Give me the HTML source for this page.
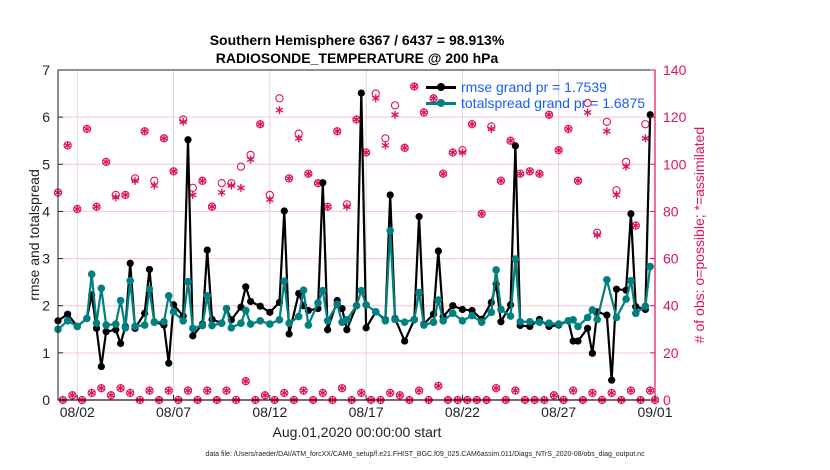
<!DOCTYPE html>
<html><head><meta charset="utf-8"><style>
body{margin:0;background:#fff;}
svg{display:block;font-family:"Liberation Sans",sans-serif;}
</style></head><body>
<svg id="chart" width="830" height="470" xmlns="http://www.w3.org/2000/svg"></svg>
<script>
// ---- data (time index = 6-hour steps from Aug 01 2020 00:00) ----
const rmseTimes = [0,2,4,6,7,8,9,10,12,13,14,15,16,18,19,20,22,23,24,26,27,28,30,31,32,34,35,36,38,39,40,42,44,46,47,48,50,51,52,54,55,56,58,59,60,62,63,64,66,68,69,70,72,74,75,76,78,79,80,82,84,86,88,90,91,92,94,95,96,98,100,102,104,106,107,108,110,111,112,114,115,116,118,119,120,122,123];
const rmseValues = [1.68,1.82,1.56,1.73,2.23,1.52,0.71,1.45,1.49,1.20,1.56,2.90,1.52,1.84,2.77,1.66,1.59,0.78,2.02,1.78,5.52,1.36,1.61,3.18,1.71,1.63,1.94,1.70,1.97,2.40,2.09,1.99,1.86,2.07,4.01,1.40,2.26,2.0,1.90,1.94,4.61,1.49,2.11,1.94,1.49,2.0,6.51,1.53,1.87,1.70,4.35,1.73,1.25,1.70,3.89,1.61,1.82,3.16,1.77,2.0,1.92,1.90,1.71,2.07,2.46,1.66,2.02,5.39,1.58,1.56,1.71,1.56,1.59,1.68,1.25,1.25,1.52,0.99,1.87,1.80,0.42,2.35,2.33,3.95,1.98,1.92,6.05];
const spreadValues = [1.50,1.68,1.56,1.73,2.67,1.63,2.37,1.59,1.61,2.11,1.53,2.53,1.56,1.59,2.35,1.65,1.66,2.21,1.87,1.68,2.51,1.52,1.58,2.21,1.58,1.63,1.94,1.53,1.63,1.90,1.61,1.68,1.61,1.70,2.52,1.63,1.77,2.33,1.59,2.06,2.32,1.68,2.03,1.65,1.70,2.0,2.32,2.02,1.87,1.68,3.59,1.71,1.65,1.71,2.28,1.59,1.65,2.12,1.68,1.84,1.68,1.79,1.65,1.86,2.76,1.92,1.78,2.99,1.66,1.66,1.65,1.63,1.61,1.68,1.70,1.56,1.75,1.91,1.71,2.55,null,1.75,2.14,2.53,1.84,1.99,2.83];
const obsTimes = [0,2,4,6,8,10,12,14,16,18,20,22,24,26,28,30,32,34,36,38,40,42,44,46,48,50,52,54,56,58,60,62,64,66,68,70,72,74,76,78,80,82,84,86,88,90,92,94,96,98,100,102,104,106,108,110,112,114,116,118,120,122,124,1,3,5,7,9,11,13,15,17,19,21,23,25,27,29,31,33,35,37,39,41,43,45,47,49,51,53,55,57,59,61,63,65,67,69,71,73,75,77,79,81,83,85,87,89,91,93,95,97,99,101,103,105,107,109,111,113,115,117,119,121,123];
const obsPossible = [88,108,81,115,82,101,87,87,94,114,93,111,97,119,90,93,82,92,92,99,104,117,87,128,94,113,96,92,82,114,83,119,105,130,111,125,107,133,122,128,96,105,106,117,79,116,93,110,96,97,96,121,106,115,93,126,71,118,89,101,74,117,0,0,2,0,3,5,2,5,3,0,4,0,4,0,4,0,4,0,4,0,8,0,2,0,3,0,4,0,3,0,5,0,3,0,0,3,2,0,4,0,6,0,0,0,0,0,5,0,4,0,0,0,2,0,4,0,3,0,3,0,4,0,4];
const obsAssim = [88,108,81,115,82,101,86,87,93,114,91,111,97,118,87,93,82,88,91,90,102,117,85,123,94,111,96,92,82,114,82,119,105,128,108,121,107,133,122,128,96,105,105,117,79,115,93,110,96,97,96,121,106,115,93,122,70,114,87,99,74,111,0,0,2,0,3,5,2,5,3,0,4,0,4,0,4,0,4,0,4,0,8,0,2,0,3,0,4,0,3,0,5,0,3,0,0,3,2,0,4,0,6,0,0,0,0,0,5,0,4,0,0,0,2,0,4,0,3,0,3,0,4,0,4];
const dateTicks = [1,6,11,16,21,26,31];
const dateLabels = ["08/02","08/07","08/12","08/17","08/22","08/27","09/01"];
const leftTicks = [0,1,2,3,4,5,6,7];
const rightTicks = [0,20,40,60,80,100,120,140];

const NS="http://www.w3.org/2000/svg";
const svg=document.getElementById('chart');
const L=58,R=655,T=70,B=400;
const xDays=d=>L+(R-L)*d/31;
const xT=i=>xDays(i/4);
const yL=v=>B-(B-T)*v/7;
const yR=v=>B-(B-T)*v/140;
const PINK="#e0115f";
function el(tag,attrs,parent){const e=document.createElementNS(NS,tag);for(const k in attrs)e.setAttribute(k,attrs[k]);(parent||svg).appendChild(e);return e;}

// grid
dateTicks.forEach(d=>{const g=el('line',{x1:xDays(d),x2:xDays(d),y1:T,y2:B,stroke:'#d8d8d8','stroke-width':1});

});
rightTicks.forEach(v=>{if(v===0||v===140)return;const g=el('line',{x1:L,x2:R,y1:yR(v),y2:yR(v),stroke:'#f6c6d6','stroke-width':1});

});

// obs markers
const obsG=el('g',{});


obsTimes.forEach((t,k)=>{
  const x=xT(t);
  const c=el('circle',{cx:x,cy:yR(obsPossible[k]),r:3.6,fill:'none',stroke:PINK,'stroke-width':1.1},obsG);
  
  
  const y=yR(obsAssim[k]);
  const a=el('g',{stroke:PINK,'stroke-width':1.4},obsG);
  
  
  [[0,-4],[3.5,-2],[3.5,2]].forEach(([dx,dy])=>el('line',{x1:x-dx,y1:y-dy,x2:x+dx,y2:y+dy},a));
});

// series
function series(times,vals,color,r,name){
  const pts=[];times.forEach((t,k)=>{if(vals[k]!==null)pts.push([xT(t),yL(vals[k])]);});
  const g=el('g',{});
  
  
  el('polyline',{points:pts.map(p=>p.join(',')).join(' '),fill:'none',stroke:color,'stroke-width':2.2,'stroke-linejoin':'round'},g);
  pts.forEach(p=>{const c=el('circle',{cx:p[0],cy:p[1],r:r,fill:color},g);
  
  });
}
series(rmseTimes,rmseValues,'#000',3.6,'rmse-series');
series(rmseTimes,spreadValues,'#008080',3.8,'totalspread-series');

// axes
el('rect',{x:L,y:T,width:R-L,height:B-T,fill:'none',stroke:'#222','stroke-width':1});
el('line',{x1:R,x2:R,y1:T,y2:B,stroke:PINK,'stroke-width':1.2});
el('line',{x1:L,x2:R,y1:B,y2:B,stroke:'#3a0a1a','stroke-width':1.2});
leftTicks.forEach(v=>{
  el('line',{x1:L,x2:L+5,y1:yL(v),y2:yL(v),stroke:'#222'});
  const t=el('text',{x:L-8,y:yL(v)+5,'text-anchor':'end','font-size':14,fill:'#222'});t.textContent=v;
  
  
});
rightTicks.forEach(v=>{
  el('line',{x1:R-5,x2:R,y1:yR(v),y2:yR(v),stroke:PINK});
  const t=el('text',{x:R+8,y:yR(v)+5,'font-size':14,fill:PINK});t.textContent=v;
  
  
});
dateTicks.forEach((d,k)=>{
  el('line',{x1:xDays(d),x2:xDays(d),y1:B,y2:B-5,stroke:'#222'});
  const t=el('text',{x:xDays(d),y:B+17,'text-anchor':'middle','font-size':14,fill:'#222'});t.textContent=dateLabels[k];
  
  
});
</script>
<div style="position:absolute;left:0;top:0;width:830px;height:470px;pointer-events:none;font-family:'Liberation Sans',sans-serif;">
  <div style="position:absolute;left:157px;width:400px;top:31px;text-align:center;font-weight:bold;font-size:14px;line-height:18px;color:#000;">Southern Hemisphere 6367 / 6437 = 98.913%<br>RADIOSONDE_TEMPERATURE @ 200 hPa</div>
  <div style="position:absolute;left:207px;width:300px;top:424px;text-align:center;font-size:14px;color:#222;">Aug.01,2020 00:00:00 start</div>
  <div style="position:absolute;left:-51px;top:227px;width:170px;text-align:center;font-size:14px;color:#222;transform:rotate(-90deg);">rmse and totalspread</div>
  <div style="position:absolute;left:579px;top:227px;width:240px;text-align:center;font-size:14px;color:#e0115f;transform:rotate(-90deg);">#&nbsp;of obs: o=possible; *=assimilated</div>
  <div style="position:absolute;left:0;width:830px;top:451px;text-align:center;font-size:7px;color:#222;padding-left:10px;">data file: /Users/raeder/DAI/ATM_forcXX/CAM6_setup/f.e21.FHIST_BGC.f09_025.CAM6assim.011/Diags_NTrS_2020-08/obs_diag_output.nc</div>
  <div style="position:absolute;left:426px;top:79px;font-size:14px;color:#1a5cff;line-height:16px;">
    <div style="position:relative;padding-left:35px;">
      <span style="position:absolute;left:0;top:7px;width:30px;height:2.5px;background:#000;"></span>
      <span style="position:absolute;left:11px;top:4px;width:8px;height:8px;border-radius:50%;background:#000;"></span>rmse grand pr = 1.7539</div>
    <div style="position:relative;padding-left:35px;">
      <span style="position:absolute;left:0;top:7px;width:30px;height:2.5px;background:#008080;"></span>
      <span style="position:absolute;left:11px;top:4px;width:8px;height:8px;border-radius:50%;background:#008080;"></span>totalspread grand pr = 1.6875</div>
  </div>
</div>
</body></html>
